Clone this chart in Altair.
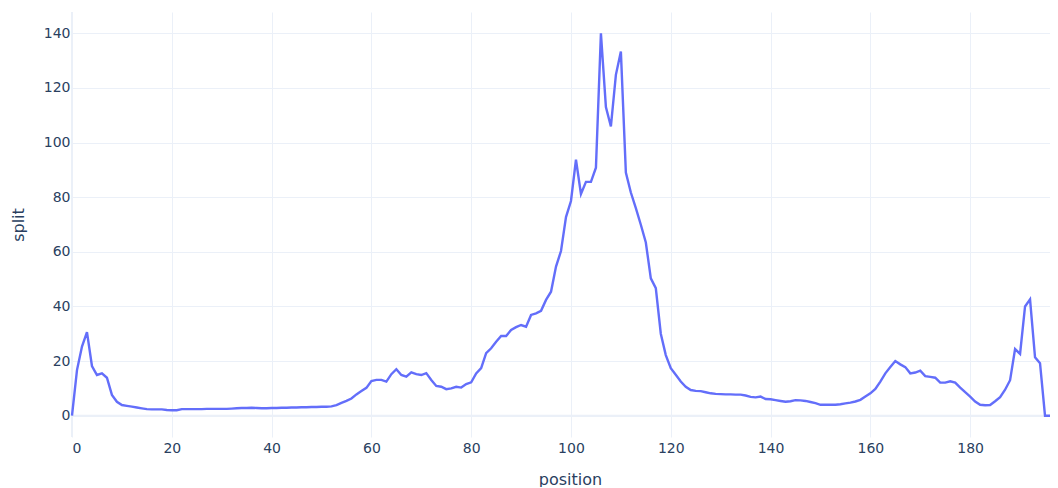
import altair as alt
import pandas as pd

position = list(range(0, 197))
split = [
    0.0, 16.7, 25.3, 30.6, 18.2, 14.9, 15.5, 13.9, 7.6, 5.1,
    3.9, 3.6, 3.3, 3.0, 2.7, 2.4, 2.3, 2.3, 2.3, 2.1,
    2.0, 2.0, 2.4, 2.4, 2.4, 2.4, 2.4, 2.5, 2.5, 2.5,
    2.5, 2.5, 2.6, 2.7, 2.8, 2.8, 2.9, 2.8, 2.7, 2.7,
    2.8, 2.8, 2.9, 2.9, 3.0, 3.0, 3.1, 3.1, 3.2, 3.2,
    3.3, 3.3, 3.4, 3.9, 4.7, 5.4, 6.3, 7.8, 9.0, 10.2,
    12.7, 13.1, 13.1, 12.5, 15.2, 17.0, 14.9, 14.3, 15.9, 15.2,
    14.9, 15.6, 13.1, 10.9, 10.6, 9.7, 10.0, 10.6, 10.3, 11.6,
    12.2, 15.5, 17.4, 22.9, 24.7, 27.1, 29.2, 29.2, 31.4, 32.4,
    33.2, 32.6, 36.9, 37.5, 38.4, 42.4, 45.4, 54.6, 60.3, 72.7,
    78.6, 93.7, 81.2, 85.6, 85.6, 90.8, 140.0, 113.0, 105.9, 124.8,
    133.3, 89.0, 81.7, 76.0, 69.9, 63.4, 50.3, 46.7, 30.0, 22.2,
    17.4, 15.0, 12.5, 10.6, 9.4, 9.1, 9.0, 8.6, 8.2, 8.0,
    7.9, 7.8, 7.8, 7.7, 7.7, 7.4, 6.9, 6.7, 7.0, 6.1,
    6.0, 5.7, 5.4, 5.1, 5.3, 5.7, 5.6, 5.4, 5.0, 4.6,
    4.0, 4.0, 4.0, 4.0, 4.2, 4.5, 4.8, 5.2, 5.8, 7.0,
    8.2, 9.8, 12.5, 15.5, 17.8, 20.0, 18.8, 17.8, 15.5, 15.8,
    16.5, 14.5, 14.2, 13.9, 12.1, 12.1, 12.6, 12.1, 10.3, 8.6,
    7.0, 5.2, 4.0, 3.8, 3.9, 5.3, 6.8, 9.5, 13.0, 24.4,
    22.6, 40.0, 42.6, 21.4, 19.2, 0.0, 0.0,
]

x_ticks = [0, 20, 40, 60, 80, 100, 120, 140, 160, 180]
y_ticks = [0, 20, 40, 60, 80, 100, 120, 140]

FONT = "DejaVu Sans"
TXT = "#2a3f5f"
GRID = "#EBF0F8"
LINE = "#636efa"

df = pd.DataFrame({"position": position, "split": split})
zero_df = pd.DataFrame({"position": [0], "split": [0]})

xscale = alt.Scale(domain=[0, 196], nice=False, zero=False)
yscale = alt.Scale(domain=[-7.8, 147.8], nice=False, zero=False)

x_axis = alt.Axis(
    values=x_ticks, grid=True, gridColor=GRID, gridWidth=1, domain=False,
    ticks=False, labelPadding=4, labelFontSize=14, labelColor=TXT,
    labelFont=FONT, title="position", titleFontSize=16,
    titleFontWeight="normal", titleColor=TXT, titleFont=FONT,
    titlePadding=16, titleX=498,
)
y_axis = alt.Axis(
    values=y_ticks, grid=True, gridColor=GRID, gridWidth=1, domain=False,
    ticks=False, labelPadding=2, labelFontSize=14, labelColor=TXT,
    labelFont=FONT, title="split", titleFontSize=16,
    titleFontWeight="normal", titleColor=TXT, titleFont=FONT,
    titlePadding=17,
)

line = alt.Chart(df).mark_line(color=LINE, strokeWidth=2.4).encode(
    x=alt.X("position:Q", scale=xscale, axis=x_axis),
    y=alt.Y("split:Q", scale=yscale, axis=y_axis),
)
hzero = alt.Chart(zero_df).mark_rule(color=GRID, strokeWidth=2).encode(
    y=alt.Y("split:Q", scale=yscale, axis=y_axis)
)
vzero = alt.Chart(zero_df).mark_rule(color=GRID, strokeWidth=2).encode(
    x=alt.X("position:Q", scale=xscale, axis=x_axis)
)

chart = (
    alt.layer(hzero, vzero, line)
    .properties(
        width=978,
        height=425,
        padding={"left": 64, "top": 4, "right": 0, "bottom": 50},
        autosize=alt.AutoSizeParams(type="none"),
        background="white",
    )
    .configure_view(stroke=None)
)

chart.save("out.html", embed_options={"renderer": "svg", "actions": False})
